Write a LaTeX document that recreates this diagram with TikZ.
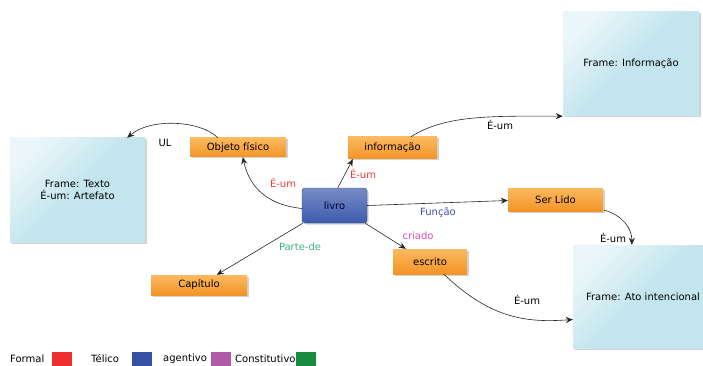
\documentclass[tikz,border=0pt]{standalone}
\usepackage{fontspec}
\setmainfont{DejaVu Sans}
\usetikzlibrary{positioning, shadows, calc, arrows.meta}

\definecolor{framebg}{HTML}{C3E5EE}
\definecolor{laranja}{HTML}{F39426}
\definecolor{laranjaclaro}{HTML}{FBB960}
\definecolor{azullivro}{HTML}{3D5BAD}
\definecolor{formalc}{HTML}{EE2E2E}
\definecolor{telicoc}{HTML}{3651A4}
\definecolor{agentivoc}{HTML}{B05AA8}
\definecolor{constc}{HTML}{178A3F}
\definecolor{rotformal}{HTML}{F03A3A}
\definecolor{rottelico}{HTML}{4350A8}
\definecolor{rotagentivo}{HTML}{D050B0}
\definecolor{rotconst}{HTML}{40B080}

\begin{document}
\begin{tikzpicture}[x=1pt, y=-1pt, font=\fontsize{10}{12}\selectfont,
    frame/.style={top color=framebg!35!white, bottom color=framebg, middle color=framebg, shading angle=45,
        draw=none, align=center, drop shadow={shadow xshift=1.5pt, shadow yshift=-1.5pt, opacity=0.35}},
    conceito/.style={top color=laranjaclaro, bottom color=laranja, draw=none,
        drop shadow={shadow xshift=1.5pt, shadow yshift=-1.5pt, opacity=0.35}},
    seta/.style={draw=black!85, line width=0.6pt, -{Stealth[length=7pt, width=6pt]}},
    rotulo/.style={inner sep=1pt},
    legenda/.style={anchor=west, inner sep=0pt}]
    \useasboundingbox (0,0) rectangle (703,366);

    % frames
    \node[frame, minimum width=135pt, minimum height=104pt] (texto) at (77.5,190) {Frame: Texto\\É-um: Artefato};
    \node[frame, minimum width=136pt, minimum height=104pt] (finfo) at (631,64) {Frame: Informação};
    \node[frame, minimum width=140pt, minimum height=103pt] (fato) at (643,296.5) {Frame: Ato intencional};

    % conceitos
    \node[conceito, minimum width=96pt, minimum height=19pt] (objeto) at (238,147.5) {Objeto físico};
    \node[conceito, minimum width=89pt, minimum height=22pt] (informacao) at (392.5,148) {informação};
    \node[conceito, minimum width=95pt, minimum height=23pt] (serlido) at (555.5,199.5) {Ser Lido};
    \node[conceito, minimum width=74pt, minimum height=25pt] (escrito) at (430,261.5) {escrito};
    \node[conceito, minimum width=96pt, minimum height=20pt] (capitulo) at (199,285) {Capítulo};
    \node[top color=azullivro!70!white, bottom color=azullivro, draw=azullivro!80!black, rounded corners=3pt,
        minimum width=65pt, minimum height=35pt, text=black!80!blue,
        drop shadow={shadow xshift=1.5pt, shadow yshift=-1.5pt, opacity=0.35}] (livro) at (334.5,205.5) {livro};

    % ligacoes
    \draw[seta] ($(objeto.north west)+(28,0)$) .. controls (200,120) and (150,118) .. ($(texto.north east)+(-18,0)$);
    \node[rotulo] (ul) at (165,143) {UL};
    \draw[seta] ($(livro.west)+(0,3)$) .. controls (270,205) and (250,190) .. ($(objeto.south west)+(53,0)$);
    \node[rotulo, text=rotformal] (eum1) at (283,183) {É-um};
    \draw[seta] ($(livro.north west)+(36,0)$) -- ($(informacao.south west)+(5,0)$);
    \node[rotulo, text=rotformal] (eum2) at (363,174) {É-um};
    \draw[seta] ($(informacao.north west)+(63,0)$) .. controls (445,115) and (490,116) .. ($(finfo.south west)+(0,0)$);
    \node[rotulo] (eum3) at (500,125) {É-um};
    \draw[seta] (livro.east) -- ($(serlido.west)+(0,1)$);
    \node[rotulo, text=rottelico] (funcao) at (438,213) {Função};
    \draw[seta] ($(serlido.south east)+(1,-1)$) .. controls (622,215) and (632,228) .. ($(fato.north west)+(59,0)$);
    \node[rotulo] (eum4) at (613,238) {É-um};
    \draw[seta] ($(livro.south east)+(-2,0)$) -- ($(escrito.north west)+(13,0)$);
    \node[rotulo, text=rotagentivo] (criado) at (418,236) {criado};
    \draw[seta] ($(livro.south west)+(1,0)$) -- ($(capitulo.north west)+(66,0)$);
    \node[rotulo, text=rotconst] (partede) at (300,247) {Parte-de};
    \draw[seta] ($(escrito.south west)+(51,0)$) .. controls (490,318) and (525,323) .. ($(fato.west)+(0,23)$);
    \node[rotulo] (eum5) at (527,300) {É-um};

    % legenda
    \node[legenda] (lformal) at (10,359) {Formal};
    \fill[formalc] (52,352) rectangle (72,368);
    \node[legenda] (ltelico) at (91,359) {Télico};
    \fill[telicoc] (132,352) rectangle (152,368);
    \node[legenda] (lagentivo) at (163,359) {agentivo};
    \fill[agentivoc] (211,352) rectangle (231,368);
    \node[legenda] (lconst) at (235,359) {Constitutivo};
    \fill[constc] (296,352) rectangle (316,368);
\end{tikzpicture}
\end{document}
